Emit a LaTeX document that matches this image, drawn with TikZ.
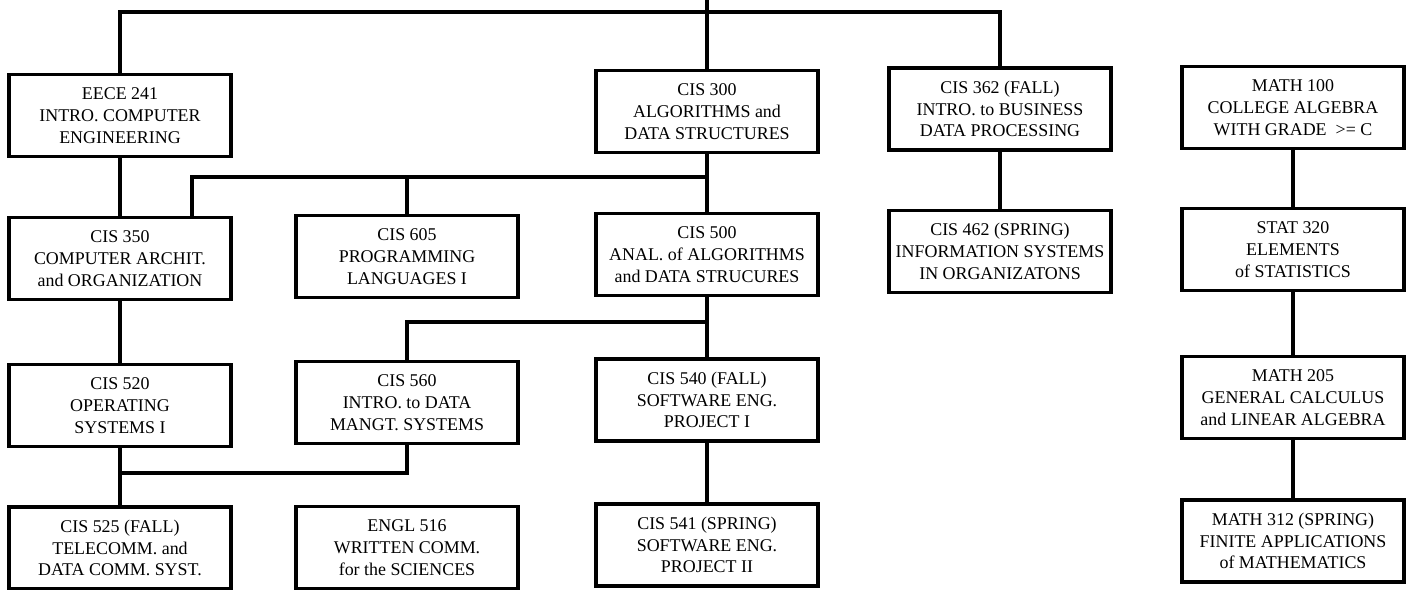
\documentclass[tikz,border=0pt]{standalone}
\usepackage{fontspec}
\setmainfont{Liberation Serif}
\usepackage{tikz}

\begin{document}
\begin{tikzpicture}[x=0.02cm, y=-0.02cm,
	course/.style={draw, line width=2.2pt, minimum width=4.44cm, minimum height=1.64cm,
		align=center, inner sep=2pt, font=\fontsize{10.2}{12.4}\selectfont},
	link/.style={line width=2.2pt}]
	\useasboundingbox (0,0) rectangle (1412,590);
	% first row
	\node[course] (eece241) at (120,115.5) {EECE 241\\INTRO. COMPUTER\\ENGINEERING};
	\node[course] (cis300) at (707,111.5) {CIS 300\\ALGORITHMS and\\DATA STRUCTURES};
	\node[course] (cis362) at (1000,109) {CIS 362 (FALL)\\INTRO. to BUSINESS\\DATA PROCESSING};
	\node[course] (math100) at (1293,107.5) {MATH 100\\COLLEGE ALGEBRA\\WITH GRADE~ >= C};
	% second row
	\node[course] (cis350) at (120,258.5) {CIS 350\\COMPUTER ARCHIT.\\and ORGANIZATION};
	\node[course] (cis605) at (407,256.5) {CIS 605\\PROGRAMMING\\LANGUAGES I};
	\node[course] (cis500) at (707,254.5) {CIS 500\\ANAL. of ALGORITHMS\\and DATA STRUCURES};
	\node[course] (cis462) at (1000,251.5) {CIS 462 (SPRING)\\INFORMATION SYSTEMS\\IN ORGANIZATONS};
	\node[course] (stat320) at (1293,249.5) {STAT 320\\ELEMENTS\\of STATISTICS};
	% third row
	\node[course] (cis520) at (120,405.5) {CIS 520\\OPERATING\\SYSTEMS I};
	\node[course] (cis560) at (407,402.5) {CIS 560\\INTRO. to DATA\\MANGT. SYSTEMS};
	\node[course] (cis540) at (707,400) {CIS 540 (FALL)\\SOFTWARE ENG.\\PROJECT I};
	\node[course] (math205) at (1293,397.5) {MATH 205\\GENERAL CALCULUS\\and LINEAR ALGEBRA};
	% fourth row
	\node[course] (cis525) at (120,548) {CIS 525 (FALL)\\TELECOMM. and\\DATA COMM. SYST.};
	\node[course] (engl516) at (407,547.5) {ENGL 516\\WRITTEN COMM.\\for the SCIENCES};
	\node[course] (cis541) at (707,545) {CIS 541 (SPRING)\\SOFTWARE ENG.\\PROJECT II};
	\node[course] (math312) at (1293,541) {MATH 312 (SPRING)\\FINITE APPLICATIONS\\of MATHEMATICS};

	% junction points
	\coordinate (entry) at (707,0);
	\coordinate (topbus) at (707,12);
	\coordinate (algbus) at (192,177);
	\coordinate (anabus) at (707,322);
	\coordinate (osbus) at (120,473);

	% connectors
	\draw[link] (entry) -- (cis300.north);
	\draw[link] (eece241.north) |- (topbus) -| (cis362.north);
	\draw[link] (eece241.south) -- (cis350.north);
	\draw[link] (cis300.south) -- (cis500.north);
	\draw[link] (cis300.south |- algbus) -- (algbus) -- (algbus |- cis350.north);
	\draw[link] (cis605.north |- algbus) -- (cis605.north);
	\draw[link] (cis362.south) -- (cis462.north);
	\draw[link] (math100.south) -- (stat320.north);
	\draw[link] (cis350.south) -- (cis520.north);
	\draw[link] (cis500.south) -- (cis540.north);
	\draw[link] (anabus) -| (cis560.north);
	\draw[link] (stat320.south) -- (math205.north);
	\draw[link] (cis520.south) -- (cis525.north);
	\draw[link] (cis560.south) |- (osbus);
	\draw[link] (cis540.south) -- (cis541.north);
	\draw[link] (math205.south) -- (math312.north);
\end{tikzpicture}
\end{document}
